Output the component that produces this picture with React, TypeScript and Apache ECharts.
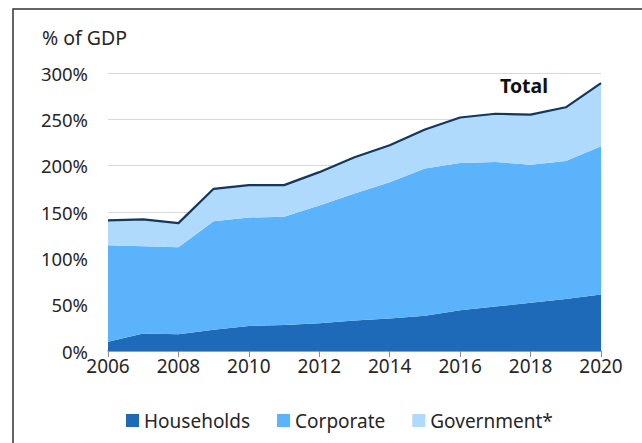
import React, { useEffect, useRef } from "react";
import * as echarts from "echarts";

const years = ["2006","2007","2008","2009","2010","2011","2012","2013","2014","2015","2016","2017","2018","2019","2020"];
const households = [10, 19, 18, 23, 27, 28, 30, 33, 35, 38, 44, 48, 52, 56, 61];
const corporate = [104, 94, 94, 117, 117, 117, 127, 137, 147, 159, 159, 156, 149, 149, 160];
const government = [27, 29, 26, 35, 35, 34, 36, 39, 40, 42, 49, 52, 54, 58, 68];
const yTicks = [0, 50, 100, 150, 200, 250, 300];

const FONT = "Noto Sans";

export default function App() {
  const ref = useRef<HTMLDivElement>(null);
  useEffect(() => {
    if (!ref.current) return;
    const chart = echarts.init(ref.current, null, { renderer: "svg" });
    const total = households.map((h, i) => h + corporate[i] + government[i]);
    const area = (name: string, data: number[], color: string) => ({
      name,
      type: "line",
      stack: "debt",
      data,
      symbol: "none",
      lineStyle: { width: 0 },
      itemStyle: { color },
      areaStyle: { color, opacity: 1 },
    });
    chart.setOption({
      animation: false,
      textStyle: { fontFamily: FONT },
      grid: { left: 108, right: 41, top: 73, bottom: 92 },
      legend: {
        left: 121,
        top: 406,
        itemWidth: 13,
        itemHeight: 13,
        itemGap: 27,
        icon: "rect",
        textStyle: { fontSize: 19, color: "#262626", fontFamily: FONT },
        data: ["Households", "Corporate", "Government*"],
      },
      xAxis: {
        type: "category",
        data: years,
        boundaryGap: false,
        axisLine: { lineStyle: { color: "#8c8c8c", width: 1.5 } },
        axisTick: { interval: 1, length: 6, lineStyle: { color: "#8c8c8c" } },
        axisLabel: { interval: 1, fontSize: 19, color: "#262626", margin: 5, fontFamily: FONT },
        splitLine: { show: false },
      },
      yAxis: {
        type: "value",
        min: yTicks[0],
        max: yTicks[yTicks.length - 1],
        interval: 50,
        axisLine: { show: false },
        axisTick: { show: false },
        axisLabel: { formatter: "{value}%", fontSize: 18.5, color: "#262626", margin: 20, fontFamily: FONT },
        splitLine: { lineStyle: { color: "#d9d9d9", width: 1 } },
      },
      series: [
        area("Households", households, "#1E6AB8"),
        area("Corporate", corporate, "#5AB3FB"),
        area("Government*", government, "#AFDAFC"),
        {
          name: "Total",
          type: "line",
          data: total,
          symbol: "none",
          z: 10,
          lineStyle: { color: "#14375A", width: 2.2 },
          itemStyle: { color: "#14375A" },
        },
      ],
      graphic: [
        {
          type: "rect",
          shape: { x: 13, y: 9, width: 700, height: 500 },
          style: { fill: "none", stroke: "#333333", lineWidth: 1.5 },
          silent: true,
        },
        {
          type: "text",
          left: 42,
          top: 27,
          style: { text: "% of GDP", fontSize: 19.5, fill: "#262626", fontFamily: FONT },
        },
        {
          type: "text",
          left: 500,
          top: 75,
          style: { text: "Total", fontSize: 19.5, fontWeight: "bold", fill: "#111111", fontFamily: FONT },
        },
      ],
    });
    return () => chart.dispose();
  }, []);
  return (
    <div
      ref={ref}
      style={{ position: "fixed", left: 0, top: 0, width: 642, height: 443, background: "#ffffff" }}
    />
  );
}
